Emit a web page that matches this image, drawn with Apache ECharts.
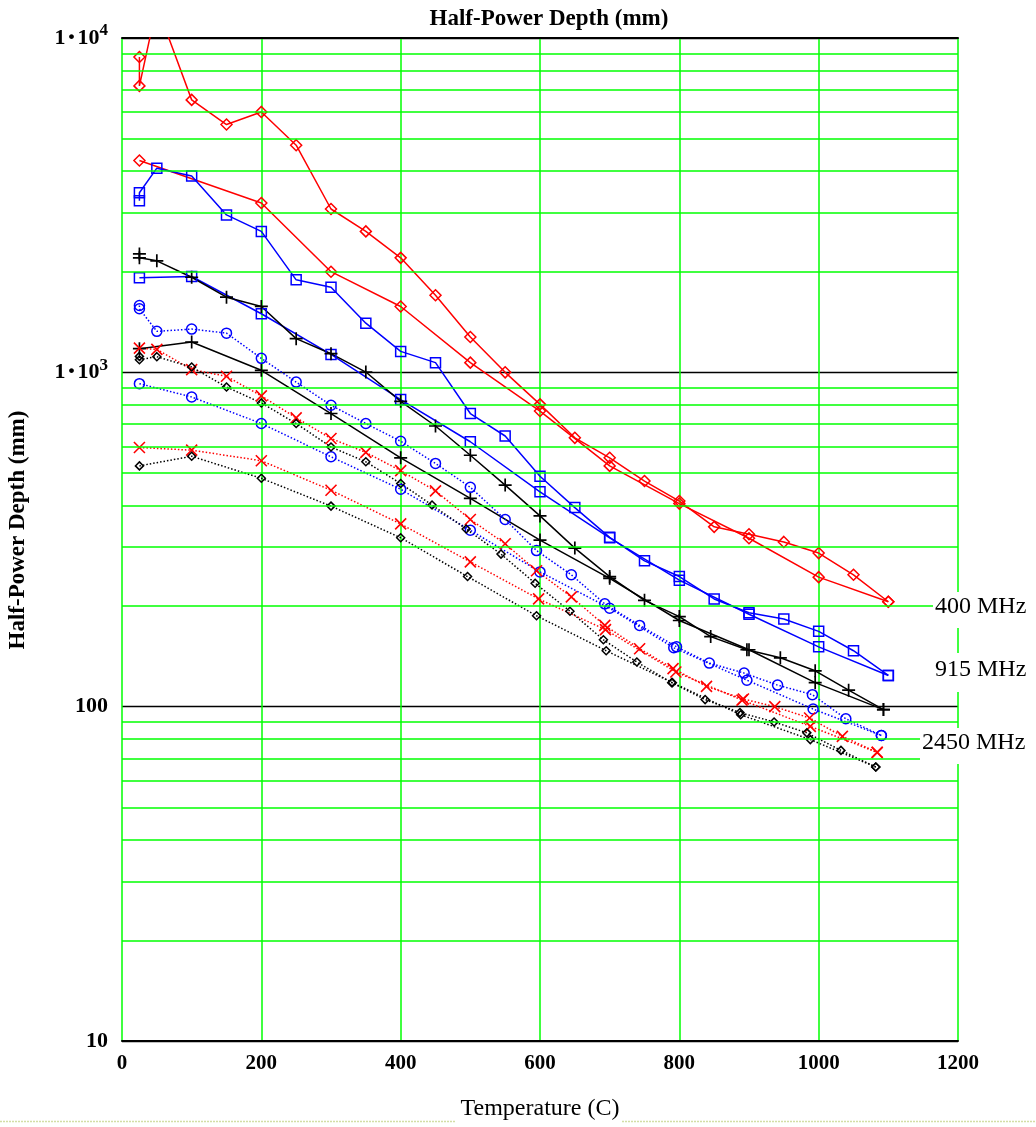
<!DOCTYPE html>
<html><head><meta charset="utf-8">
<script src="https://cdn.jsdelivr.net/npm/echarts@6/dist/echarts.min.js"></script>
<style>html,body{margin:0;padding:0;background:#fff}#c{width:1036px;height:1127px}</style>
</head><body><div id="c"></div>
<script>
// ---- data ----
const xTicks = [0, 200, 400, 600, 800, 1000, 1200];
const yMajor = [10, 100, 1000, 10000];
const yMinorGrid = [20,30,40,50,60,70,80,90,200,300,400,500,600,700,800,900,2000,3000,4000,5000,6000,7000,8000,9000];
const freqLabels = ['400 MHz', '915 MHz', '2450 MHz'];
const titleText = 'Half-Power Depth (mm)';
const xName = 'Temperature (C)';

const A_x = [25,25,50,100,150,200,250,300,350,400,450,500,550,600,650,700,750,800,850,900,950,1000,1050,1100];
const A_y = [8770,7190,12500,6530,5510,6010,4780,3080,2640,2200,1700,1275,1000,802,637,555,473,412,345,328,311,288,248,206];
const B_x = [25,200,300,400,500,600,700,800,900,1000,1100];
const B_y = [4300,3210,2000,1574,1069,766,525,405,319,244,206];
const C_x = [25,25,50,100,150,200,250,300,350,400,450,500,550,600,650,700,750,800,850,900,950,1000,1050,1100];
const C_y = [3260,3445,4080,3865,2957,2640,1891,1798,1403,1155,1069,753,645,489,394,321,273,245,210,191,183,168,147,124];
const E_x = [25,100,200,300,400,500,600,700,800,900,1000,1100];
const E_y = [1917,1935,1497,1131,829,620,439,320,239,189,151,124];
const D_x = [25,25,50,100,150,200,250,300,350,400,450,500,550,600,650,700,750,800,845,897,945,995,1043,1093];
const D_y = [2260,2200,2155,1925,1678,1574,1261,1137,1002,819,691,565,460,372,298,245,208,186,162,148,140,128,112,98];
const G_x = [25,100,200,300,400,500,600,700,800,900,995,1093];
const G_y = [1177,1232,1014,753,555,420,315,242,181,148,118,98];
const F_x = [25,25,50,100,150,200,250,300,350,400,450,500,550,595,645,693,743,796,843,893,941,991,1039,1090];
const F_y = [1585,1549,1326,1347,1310,1101,935,797,703,622,534,453,363,293,248,203,175,151,135,126,116,108.6,92,82];
const J_x = [25,100,200,300,400,500,600,700,792,897,992,1090];
const J_y = [925,844,703,559,447,337,253,197,150,120,98.4,82];
const H_x = [25,50,100,150,200,250,300,350,400,450,500,550,595,645,693,743,791,839,892,937,987,1034,1084];
const H_y = [1181,1171,1019,973,850,731,634,576,508,442,363,307,255,213,175,149,130,115,105.4,100,92.5,81.5,73];
const K_x = [25,100,200,300,400,500,598,694,795,890,988,1084];
const K_y = [596,585,544,444,352,271,210,170,127,104.6,87.3,73];
const I_x = [25,25,50,100,150,200,250,300,350,400,445,494,544,593,643,691,739,789,837,887,936,983,1032,1082];
const I_y = [1116,1091,1114,1037,904,810,703,598,540,465,401,340,286,234,193,158.5,136,118,105,96,90,83.5,74,66];
const L_x = [25,100,200,300,400,496,595,695,790,888,988,1082];
const L_y = [525,561,482,398,320,245,187,147,118,94.6,79.7,66];

// ---- styling ----
const SERIF = '"Liberation Serif", "Times New Roman", serif';
const RED = '#ff0000', BLUE = '#0000ff', BLACK = '#000000', GREEN = '#00ff00';
const PLUS = 'path://M5 0 L5 10 M0 5 L10 5';
const CROSS = 'path://M0 0 L10 10 M10 0 L0 10';

function zip(xs, ys) { return xs.map((x, i) => [x, ys[i]]); }
function mk(name, xs, ys, color, symbol, size, dotted, bw) {
  return {
    name, type: 'line', data: zip(xs, ys), z: 3,
    symbol, symbolSize: size, showSymbol: true, clip: true,
    lineStyle: { color, width: 1.5, type: dotted ? [1.5, 2] : 'solid' },
    itemStyle: { color: 'rgba(0,0,0,0)', borderColor: color, borderWidth: bw || 1.5 },
    emphasis: { disabled: true }
  };
}

const series = [
  { type: 'line', data: [], silent: true, z: 1,
    markLine: { silent: true, symbol: ['none', 'none'], label: { show: false }, animation: false,
      lineStyle: { color: GREEN, width: 1.5, type: 'solid' },
      data: yMinorGrid.map(v => ({ yAxis: v })) } },
  mk('A', A_x, A_y, RED, 'diamond', 11, false),
  mk('B', B_x, B_y, RED, 'diamond', 11, false),
  mk('C', C_x, C_y, BLUE, 'rect', 10, false),
  mk('E', E_x, E_y, BLUE, 'rect', 10, false),
  mk('D', D_x, D_y, BLACK, PLUS, 13, false, 1.7),
  mk('G', G_x, G_y, BLACK, PLUS, 13, false, 1.7),
  mk('F', F_x, F_y, BLUE, 'circle', 10, true),
  mk('J', J_x, J_y, BLUE, 'circle', 10, true),
  mk('H', H_x, H_y, RED, CROSS, 11, true, 1.6),
  mk('K', K_x, K_y, RED, CROSS, 11, true, 1.6),
  mk('I', I_x, I_y, BLACK, 'diamond', 8, true),
  mk('L', L_x, L_y, BLACK, 'diamond', 8, true)
];

const labelY = [607, 670, 743];
const labelX = [935, 935, 922];
const boxes = [[933, 592, 103, 36], [933, 653, 103, 39], [920, 728, 116, 36]];
const graphics = [];
freqLabels.forEach((t, i) => {
  graphics.push({ type: 'rect', z: 100, shape: { x: boxes[i][0], y: boxes[i][1], width: boxes[i][2], height: boxes[i][3] }, style: { fill: '#fff' } });
  graphics.push({ type: 'text', z: 101, x: labelX[i], y: labelY[i], style: { text: t, font: '24px ' + SERIF, fill: '#000', textAlign: 'left', textVerticalAlign: 'middle' } });
});
graphics.push({ type: 'text', z: 101, x: 18, y: 530, rotation: Math.PI / 2,
  style: { text: titleText, font: 'bold 23px ' + SERIF, fill: '#000', textAlign: 'center', textVerticalAlign: 'middle' } });
graphics.push({ type: 'line', z: 50, shape: { x1: 0, y1: 1121.5, x2: 456, y2: 1121.5 }, style: { stroke: '#d3dea6', lineWidth: 1.5, lineDash: [2, 1] } });
graphics.push({ type: 'line', z: 50, shape: { x1: 622, y1: 1121.5, x2: 1036, y2: 1121.5 }, style: { stroke: '#d3dea6', lineWidth: 1.5, lineDash: [2, 1] } });

const chart = echarts.init(document.getElementById('c'), null, { renderer: 'canvas', width: 1036, height: 1127 });
chart.setOption({
  animation: false,
  backgroundColor: '#fff',
  title: { text: titleText, left: 544, top: 3, textAlign: 'center',
    textStyle: { fontFamily: SERIF, fontWeight: 'bold', fontSize: 23, color: '#000' } },
  grid: { left: 122, right: 78, top: 38, bottom: 86, containLabel: false },
  xAxis: [{
    type: 'value', min: xTicks[0], max: xTicks[xTicks.length - 1], interval: 200,
    name: xName, nameLocation: 'middle', nameGap: 56,
    nameTextStyle: { fontFamily: SERIF, fontSize: 24, color: '#000' },
    axisLine: { show: true, lineStyle: { color: '#000', width: 2 } }, axisTick: { show: false },
    axisLabel: { margin: 12, fontFamily: SERIF, fontWeight: 'bold', fontSize: 21, color: '#000',
      formatter: v => String(v) },
    splitLine: { show: true, lineStyle: { color: GREEN, width: 1.5 } }, z: 2
  }, {
    type: 'value', position: 'top', min: xTicks[0], max: xTicks[xTicks.length - 1],
    axisLine: { show: true, lineStyle: { color: '#000', width: 2 } }, axisTick: { show: false },
    axisLabel: { show: false }, splitLine: { show: false }, z: 2
  }],
  yAxis: {
    type: 'log', logBase: 10, min: yMajor[0], max: yMajor[yMajor.length - 1],
    axisLine: { show: false }, axisTick: { show: false },
    axisLabel: { margin: 14, color: '#000',
      formatter: v => v >= 1000 ? '{b|1}{d|·}{b|10}{s|' + Math.round(Math.log10(v)) + '}' : '{b|' + v + '}',
      rich: { b: { fontFamily: SERIF, fontWeight: 'bold', fontSize: 22, color: '#000' },
              d: { fontFamily: SERIF, fontWeight: 'bold', fontSize: 30, color: '#000', padding: [0, 1, 0, 1] },
              s: { fontFamily: SERIF, fontWeight: 'bold', fontSize: 17, color: '#000', padding: [0, 0, 14, 0] } } },
    splitLine: { show: true, lineStyle: { color: '#000', width: 1.3 } }
  },
  graphic: graphics,
  series
});
</script></body></html>
